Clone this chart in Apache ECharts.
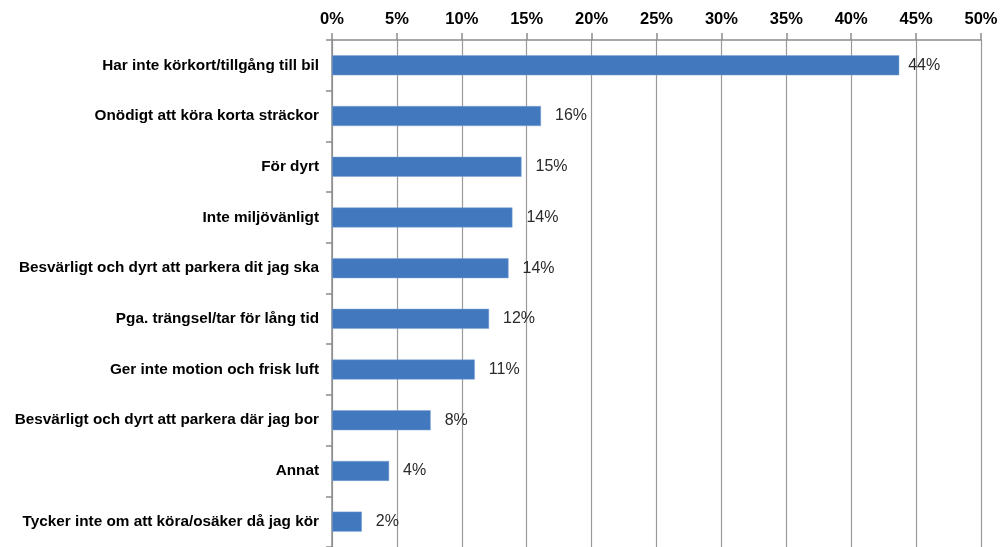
<!DOCTYPE html>
<html>
<head>
<meta charset="utf-8">
<script src="https://cdn.jsdelivr.net/npm/echarts@6/dist/echarts.min.js"></script>
<style>
  html, body { margin: 0; padding: 0; background: #fff; }
  #chart { width: 1002px; height: 547px; }
</style>
</head>
<body>
<div id="chart"></div>
<script>
// Reasons for not travelling by car (share of respondents, %)
const categories = [
  'Har inte körkort/tillgång till bil',
  'Onödigt att köra korta sträckor',
  'För dyrt',
  'Inte miljövänligt',
  'Besvärligt och dyrt att parkera dit jag ska',
  'Pga. trängsel/tar för lång tid',
  'Ger inte motion och frisk luft',
  'Besvärligt och dyrt att parkera där jag bor',
  'Annat',
  'Tycker inte om att köra/osäker då jag kör'
];
const shares = [43.7, 16.1, 14.6, 13.9, 13.6, 12.1, 11.0, 7.6, 4.4, 2.3];
const tickValues = [0, 5, 10, 15, 20, 25, 30, 35, 40, 45, 50];

// the longest bar's label sits a little tighter against its bar
const barData = shares.map((v, i) =>
  i === 0 ? { value: v, label: { distance: 9 } } : v
);

const chart = echarts.init(document.getElementById('chart'));
chart.setOption({
  animation: false,
  grid: { left: 332, right: 21, top: 40, height: 510, containLabel: false },
  xAxis: {
    type: 'value',
    position: 'top',
    min: tickValues[0],
    max: tickValues[tickValues.length - 1],
    interval: 5,
    axisLine: { show: true, lineStyle: { color: '#8c8c8c', width: 1.5 } },
    axisTick: { show: true, length: 7, lineStyle: { color: '#8c8c8c', width: 1.5 } },
    splitLine: { show: true, lineStyle: { color: '#9a9a9a', width: 1.2 } },
    axisLabel: {
      margin: 12,
      formatter: v => v + '%',
      fontFamily: 'Liberation Sans, Arial, sans-serif',
      fontWeight: 'bold',
      fontSize: 16.5,
      color: '#000'
    }
  },
  yAxis: {
    type: 'category',
    data: categories,
    inverse: true,
    axisLine: { show: true, lineStyle: { color: '#8c8c8c', width: 1.5 } },
    axisTick: { show: true, length: 6, lineStyle: { color: '#8c8c8c', width: 1.5 } },
    axisLabel: {
      margin: 13,
      fontFamily: 'Liberation Sans, Arial, sans-serif',
      fontWeight: 'bold',
      fontSize: 15.3,
      color: '#000'
    }
  },
  series: [{
    type: 'bar',
    data: barData,
    barWidth: 20,
    itemStyle: { color: '#4178be', borderColor: '#7fa3d6', borderWidth: 0.5 },
    label: {
      show: true,
      position: 'right',
      distance: 14,
      formatter: p => Math.round(p.value) + '%',
      fontFamily: 'Liberation Sans, Arial, sans-serif',
      fontSize: 16,
      color: '#2a2a2a'
    }
  }]
});
</script>
</body>
</html>
